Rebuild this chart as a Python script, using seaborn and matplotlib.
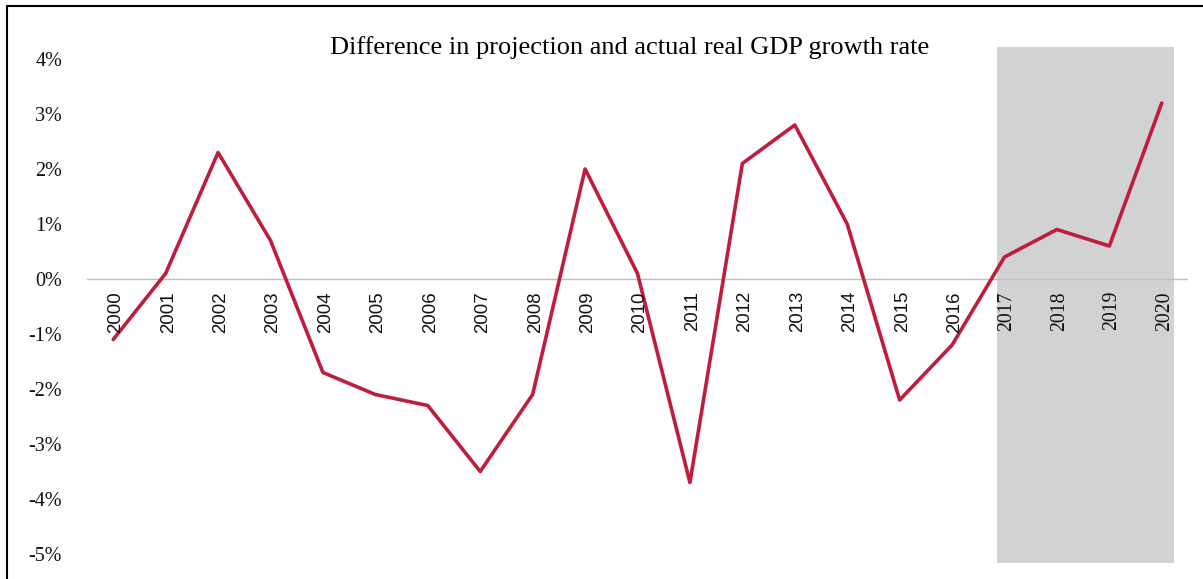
import matplotlib
matplotlib.use("Agg")
import matplotlib.pyplot as plt
from matplotlib.lines import Line2D
import seaborn as sns
import pandas as pd

years = ["2000", "2001", "2002", "2003", "2004", "2005", "2006", "2007", "2008", "2009",
         "2010", "2011", "2012", "2013", "2014", "2015", "2016", "2017", "2018", "2019", "2020"]
diff_pct = [-1.1, 0.1, 2.3, 0.7, -1.7, -2.1, -2.3, -3.5, -2.1, 2.0,
            0.1, -3.7, 2.1, 2.8, 1.0, -2.2, -1.2, 0.4, 0.9, 0.6, 3.2]
y_ticks = [4, 3, 2, 1, 0, -1, -2, -3, -4, -5]
shade_start = "2017"
title = "Difference in projection and actual real GDP growth rate"

sns.set_theme(style="white")
plt.rcParams["font.family"] = ["Liberation Serif", "DejaVu Serif"]

df = pd.DataFrame({"year": years, "diff": diff_pct})
df["pos"] = range(len(df))

fig = plt.figure(figsize=(12.03, 5.79), dpi=100)
ax = fig.add_axes([87 / 1203, 1 - 567.75 / 579, (1188 - 87) / 1203, (567.75 - 45.25) / 579])

# shaded projection period
s = years.index(shade_start)
ax.axvspan(s - 0.14, len(years) - 1 + 0.23, ymin=(-5.16 + 5.25) / 9.5, ymax=(4.22 + 5.25) / 9.5,
           color="#D1D2D4", lw=0, zorder=0)

ax.axhline(0, color="#BFBFBF", lw=1.0, zorder=1)

sns.lineplot(data=df, x="pos", y="diff", ax=ax, color="#BE1E3C", lw=2.6, zorder=3)

ax.set_xlim(-0.5, len(years) - 0.5)
ax.set_ylim(-5.25, 4.25)
ax.set_xticks([])
ax.set_yticks(y_ticks)
ax.set_yticklabels([f"{v}%" for v in y_ticks], fontsize=14.5, color="#111111")
ax.tick_params(axis="y", length=0, pad=18)
ax.set_xlabel("")
ax.set_ylabel("")
for sp in ax.spines.values():
    sp.set_visible(False)

for i, yr in enumerate(years):
    fam = ["Liberation Serif"] if i >= s else ["Liberation Sans"]
    size = 14.2 if i >= s else 13.4
    ax.text(i + 0.05, -0.22, yr, rotation=90, ha="center", va="top",
            family=fam, fontsize=size, color="#111111", zorder=4)

fig.text(630 / 1203, 1 - 48 / 579, title, ha="center", va="center",
         fontsize=19, family=["Liberation Serif"], color="black")

# outer frame
fig.add_artist(Line2D([7 / 1203, 7 / 1203], [0, 1 - 6 / 579], color="black", lw=1.5))
fig.add_artist(Line2D([7 / 1203, 1], [1 - 6 / 579, 1 - 6 / 579], color="black", lw=1.5))

fig.savefig("out.png", dpi=100)
